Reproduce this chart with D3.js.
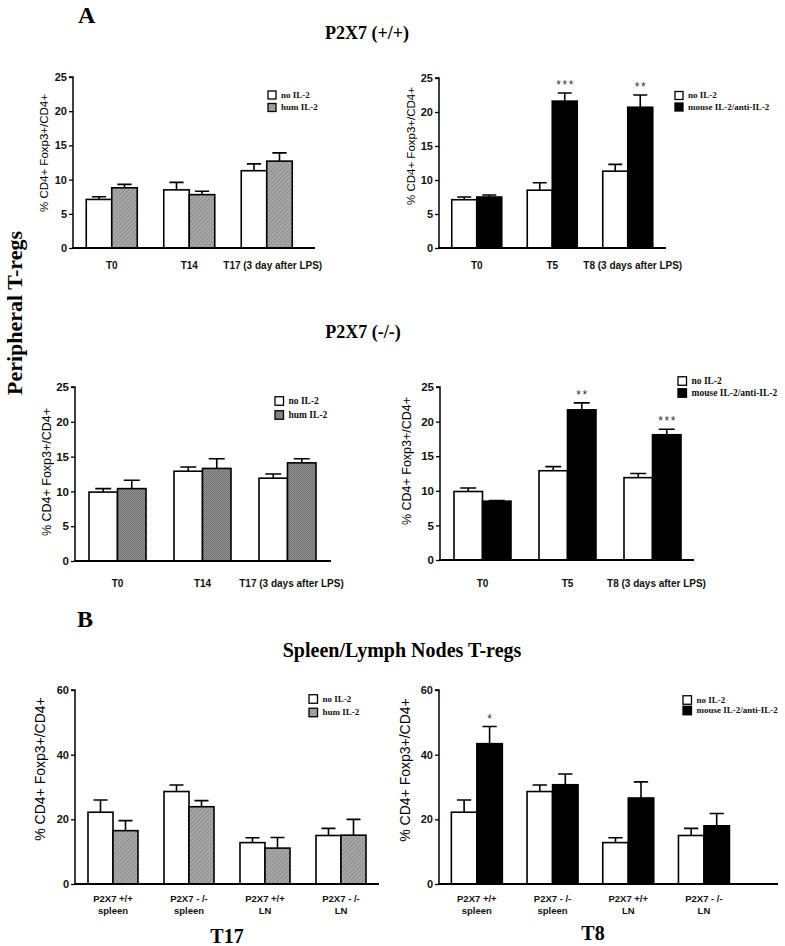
<!DOCTYPE html>
<html><head><meta charset="utf-8">
<script src="https://cdn.jsdelivr.net/npm/d3@7"></script>
<style>body{margin:0;background:#fff} svg{display:block}</style>
</head><body>
<svg id="c" width="785" height="946"></svg>
<script>
// ---------- DATA ----------
const seriesLabels = ["no IL-2", "hum IL-2"];
const seriesLabelsMouse = ["no IL-2", "mouse IL-2/anti-IL-2"];

const catsTL = ["T0", "T14", "T17 (3 day after LPS)"];
const catsTR = ["T0", "T5", "T8 (3 days after LPS)"];
const catsML = ["T0", "T14", "T17 (3 days after LPS)"];
const catsMR = ["T0", "T5", "T8 (3 days after LPS)"];
const catsB  = [["P2X7 +/+", "spleen"], ["P2X7 - /-", "spleen"], ["P2X7 +/+", "LN"], ["P2X7 - /-", "LN"]];

const tlNo = [7.1, 8.5, 11.3],   tlNoErr = [0.4, 1.1, 1.0];
const tlHum = [8.8, 7.8, 12.7],  tlHumErr = [0.5, 0.5, 1.2];
const trNo = [7.1, 8.5, 11.3],   trNoErr = [0.4, 1.1, 1.0];
const trMouse = [7.5, 21.6, 20.7], trMouseErr = [0.3, 1.2, 1.8];
const trStars = ["", "***", "**"];

const mlNo = [9.9, 12.9, 11.9],  mlNoErr = [0.5, 0.6, 0.6];
const mlHum = [10.4, 13.3, 14.1], mlHumErr = [1.2, 1.4, 0.6];
const mrNo = [9.9, 12.9, 11.9],  mrNoErr = [0.5, 0.6, 0.6];
const mrMouse = [8.5, 21.7, 18.1], mrMouseErr = [0.1, 1.0, 0.8];
const mrStars = ["", "**", "***"];

const blNo = [22.2, 28.6, 12.8, 15.0], blNoErr = [3.8, 2.0, 1.5, 2.2];
const blHum = [16.5, 23.9, 11.1, 15.1], blHumErr = [3.1, 1.9, 3.3, 4.9];
const brNo = [22.2, 28.6, 12.8, 15.0], brNoErr = [3.8, 2.0, 1.5, 2.2];
const brMouse = [43.4, 30.7, 26.6, 18.0], brMouseErr = [5.3, 3.3, 5.0, 3.8];
const brStars = ["*", "", "", ""];

const yTicksA = [0, 5, 10, 15, 20, 25];
const yTicksB = [0, 20, 40, 60];
const yTitle = "% CD4+ Foxp3+/CD4+";

// ---------- DRAW ----------
const svg = d3.select("#c");
const defs = svg.append("defs");
const hatch = defs.append("pattern").attr("id", "hatch").attr("patternUnits", "userSpaceOnUse")
  .attr("width", 3).attr("height", 3).attr("patternTransform", "rotate(45)");
hatch.append("rect").attr("width", 3).attr("height", 3).attr("fill", "#a9a9a9");
hatch.append("line").attr("x1", 0).attr("y1", 0).attr("x2", 0).attr("y2", 3).attr("stroke", "#777").attr("stroke-width", 1.2);
const dots = defs.append("pattern").attr("id", "dots").attr("patternUnits", "userSpaceOnUse")
  .attr("width", 2).attr("height", 2);
dots.append("rect").attr("width", 2).attr("height", 2).attr("fill", "#9a9a9a");
dots.append("rect").attr("width", 1).attr("height", 1).attr("fill", "#6a6a6a");
dots.append("rect").attr("x", 1).attr("y", 1).attr("width", 1).attr("height", 1).attr("fill", "#6a6a6a");

const sans = "'Liberation Sans', Arial, sans-serif";
const serif = "'Liberation Serif', 'Times New Roman', serif";

function panel(c) {
  const g = svg.append("g");
  const n = c.cats.length;
  const p = 1 - 2 * c.barW / c.step;
  const x = d3.scaleBand().domain(d3.range(n)).range([c.x0, c.x0 + n * c.step])
    .paddingInner(p).paddingOuter(p / 2);
  const xs = d3.scaleBand().domain([0, 1]).range([0, x.bandwidth()]);
  const y = d3.scaleLinear().domain([0, c.yMax]).range([c.y0, c.yTop]);

  // y axis
  const ya = d3.axisLeft(y).tickValues(c.yTicks).tickSize(4).tickPadding(2).tickFormat(d3.format("d"));
  const yg = g.append("g").attr("transform", `translate(${c.x0},0)`).call(ya);
  yg.select(".domain").attr("stroke-width", 1.5).attr("d", `M-4,${y(c.yMax)}H0V${y(0)}`);
  yg.selectAll(".tick line").attr("stroke-width", 1.3);
  yg.selectAll(".tick text").attr("font-family", sans).attr("font-weight", "bold")
    .attr("font-size", c.yTickFont).attr("fill", "#111");

  // bars
  const series = [
    { v: c.s1, e: c.e1, fill: "#fff" },
    { v: c.s2, e: c.e2, fill: c.fill2 }
  ];
  series.forEach((s, si) => {
    s.v.forEach((v, i) => {
      const bx = x(i) + xs(si);
      const top = y(v + s.e[i]);
      const cx = bx + xs.bandwidth() / 2;
      const cw = xs.bandwidth() * 0.28;
      g.append("path").attr("d", `M${cx},${y(v)}V${top}M${cx - cw},${top}H${cx + cw}`)
        .attr("stroke", "#000").attr("stroke-width", 1.6).attr("fill", "none");
      g.append("rect").attr("x", bx).attr("y", y(v)).attr("width", xs.bandwidth())
        .attr("height", y(0) - y(v)).attr("fill", s.fill).attr("stroke", "#000").attr("stroke-width", 1.6);
      if (si === 1 && c.stars && c.stars[i]) {
        g.append("text").attr("x", cx + 0.8).attr("y", top - 4).attr("text-anchor", "middle")
          .attr("font-family", sans).attr("font-size", 12).attr("letter-spacing", 1.6)
          .attr("fill", "#333").text(c.stars[i]);
      }
    });
  });

  // x axis line
  g.append("line").attr("x1", c.x0 - 1).attr("x2", c.xEnd).attr("y1", y(0)).attr("y2", y(0))
    .attr("stroke", "#000").attr("stroke-width", 2);

  // x labels
  c.cats.forEach((cat, i) => {
    const lines = Array.isArray(cat) ? cat : [cat];
    const t = g.append("text").attr("text-anchor", "middle").attr("font-family", sans)
      .attr("font-weight", "bold").attr("font-size", c.xTickFont).attr("fill", "#111");
    lines.forEach((ln, li) => {
      t.append("tspan").attr("x", x(i) + x.bandwidth() / 2 + (c.labelShift ? c.labelShift[i] : 0))
        .attr("y", c.xLabelY + li * c.xLineGap).text(ln);
    });
  });

  // y title
  g.append("text").attr("transform", `translate(${c.titleX},${c.titleY}) rotate(-90)`)
    .attr("text-anchor", "middle").attr("font-family", sans).attr("font-size", c.titleSize)
    .attr("fill", "#000").text(yTitle);

  // legend
  const lg = g.append("g");
  [["#fff"], [c.fill2]].forEach((f, i) => {
    const ly = c.legY + i * c.legGap;
    lg.append("rect").attr("x", c.legX).attr("y", ly - c.legBox / 2).attr("width", c.legBox)
      .attr("height", c.legBox).attr("fill", f[0]).attr("stroke", "#000").attr("stroke-width", 1.3);
    lg.append("text").attr("x", c.legX + c.legBox + 5).attr("y", ly + c.legFont * 0.33)
      .attr("font-family", serif).attr("font-weight", "bold").attr("font-size", c.legFont)
      .attr("fill", "#111").text(c.legLabels[i]);
  });
}

panel({ cats: catsTL, s1: tlNo, e1: tlNoErr, s2: tlHum, e2: tlHumErr, fill2: "url(#hatch)",
  x0: 73, step: 77.5, barW: 25.5, xEnd: 315, y0: 248, yTop: 77, yMax: 25, yTicks: yTicksA,
  yTickFont: 11, xTickFont: 10, xLabelY: 269, xLineGap: 0, labelShift: [0, 0, 6],
  titleX: 48, titleY: 153, titleSize: 11.5,
  legX: 268, legY: 95, legGap: 12.5, legBox: 8, legFont: 9, legLabels: seriesLabels });

panel({ cats: catsTR, s1: trNo, e1: trNoErr, s2: trMouse, e2: trMouseErr, fill2: "#000", stars: trStars,
  x0: 439, step: 75.5, barW: 25, xEnd: 666, y0: 248, yTop: 78, yMax: 25, yTicks: yTicksA,
  yTickFont: 11, xTickFont: 10, xLabelY: 269, xLineGap: 0, labelShift: [0, 0, 5],
  titleX: 415, titleY: 146, titleSize: 11.5,
  legX: 675, legY: 95.5, legGap: 11.5, legBox: 8, legFont: 9, legLabels: seriesLabelsMouse });

panel({ cats: catsML, s1: mlNo, e1: mlNoErr, s2: mlHum, e2: mlHumErr, fill2: "url(#dots)",
  x0: 75, step: 85, barW: 28.5, xEnd: 331, y0: 561, yTop: 387, yMax: 25, yTicks: yTicksA,
  yTickFont: 11.5, xTickFont: 10, xLabelY: 587, xLineGap: 0, labelShift: [0, 0, 4],
  titleX: 51, titleY: 472, titleSize: 12.5,
  legX: 275, legY: 401, legGap: 14, legBox: 8.5, legFont: 9.5, legLabels: seriesLabels });

panel({ cats: catsMR, s1: mrNo, e1: mrNoErr, s2: mrMouse, e2: mrMouseErr, fill2: "#000", stars: mrStars,
  x0: 440, step: 85, barW: 28.5, xEnd: 694, y0: 560, yTop: 387, yMax: 25, yTicks: yTicksA,
  yTickFont: 11.5, xTickFont: 10, xLabelY: 587, xLineGap: 0, labelShift: [0, 0, 4],
  titleX: 411, titleY: 461, titleSize: 12.5,
  legX: 678, legY: 381, legGap: 12, legBox: 8.5, legFont: 9.5, legLabels: seriesLabelsMouse });

panel({ cats: catsB, s1: blNo, e1: blNoErr, s2: blHum, e2: blHumErr, fill2: "url(#hatch)",
  x0: 75, step: 76, barW: 25, xEnd: 379, y0: 884, yTop: 690, yMax: 60, yTicks: yTicksB,
  yTickFont: 11, xTickFont: 9.5, xLabelY: 902, xLineGap: 12,
  titleX: 45, titleY: 769, titleSize: 14,
  legX: 309, legY: 699, legGap: 13.5, legBox: 8.5, legFont: 9, legLabels: seriesLabels });

panel({ cats: catsB, s1: brNo, e1: brNoErr, s2: brMouse, e2: brMouseErr, fill2: "#000", stars: brStars,
  x0: 439, step: 75.7, barW: 25.5, xEnd: 778, y0: 884, yTop: 690, yMax: 60, yTicks: yTicksB,
  yTickFont: 11, xTickFont: 9.5, xLabelY: 902, xLineGap: 12,
  titleX: 410, titleY: 770, titleSize: 14,
  legX: 683, legY: 700, legGap: 10.5, legBox: 8.5, legFont: 9, legLabels: seriesLabelsMouse });

// headings
function heading(txt, x, yb, size, anchor) {
  svg.append("text").attr("x", x).attr("y", yb).attr("text-anchor", anchor || "middle")
    .attr("font-family", serif).attr("font-weight", "bold").attr("font-size", size)
    .attr("fill", "#000").text(txt);
}
heading("A", 78, 23, 24, "start");
heading("P2X7 (+/+)", 367, 39, 18);
heading("P2X7 (-/-)", 363, 338, 18);
heading("B", 77, 627, 24, "start");
heading("Spleen/Lymph Nodes T-regs", 402, 657, 20);
heading("T17", 227, 943, 20);
heading("T8", 593, 940, 20);
svg.append("text").attr("transform", "translate(22,313) rotate(-90)").attr("text-anchor", "middle")
  .attr("font-family", serif).attr("font-weight", "bold").attr("font-size", 22)
  .attr("fill", "#000").text("Peripheral T-regs");
</script>
</body></html>
